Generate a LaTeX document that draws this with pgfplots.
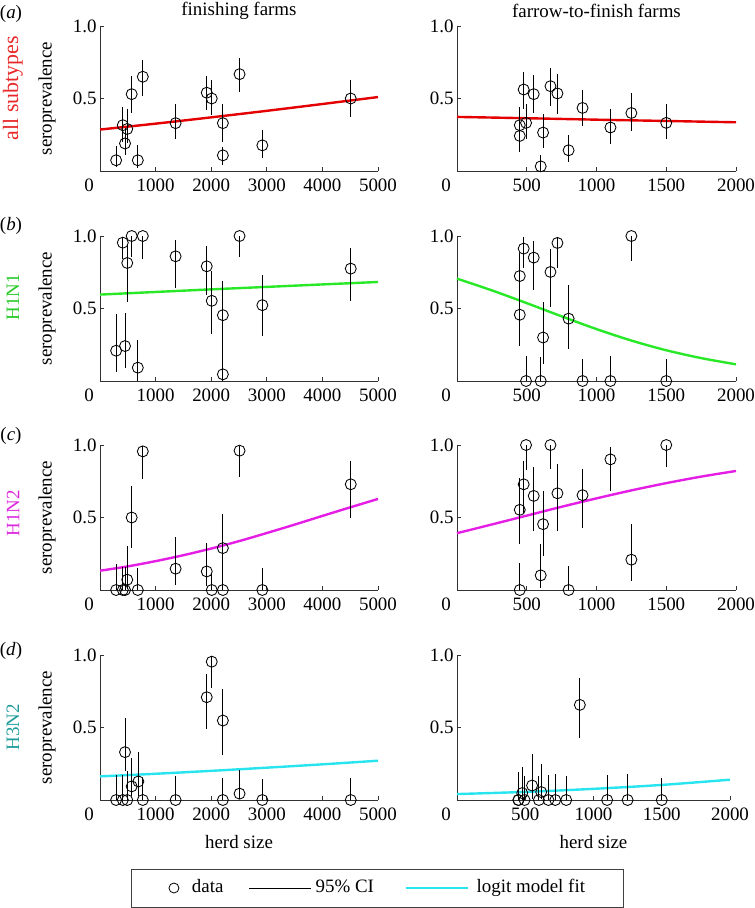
\documentclass[border=0pt]{standalone}
\usepackage{pgfplots}
\pgfplotsset{compat=1.18}
\usepackage{pgfplotstable}
\usepackage{fontspec}
\setmainfont{Liberation Serif}

\definecolor{fitred}{RGB}{228,0,0}
\definecolor{fitgreen}{RGB}{40,232,40}
\definecolor{fitmag}{RGB}{228,30,228}
\definecolor{fitcyan}{RGB}{40,228,238}
\definecolor{labred}{RGB}{232,40,40}
\definecolor{labgreen}{RGB}{40,200,40}
\definecolor{labmag}{RGB}{220,40,220}
\definecolor{labteal}{RGB}{30,155,155}
\definecolor{axgray}{RGB}{50,50,50}

% ---------- finishing farms (left column) ----------
\pgfplotstableread{
x y lo hi
290 0.074 0.03 0.17
410 0.316 0.20 0.44
450 0.19 0.11 0.30
490 0.29 0.19 0.43
570 0.53 0.40 0.654
680 0.074 0.02 0.18
770 0.65 0.518 0.765
1360 0.33 0.223 0.459
1920 0.54 0.42 0.657
2010 0.50 0.385 0.627
2210 0.33 0.20 0.465
2210 0.108 0.04 0.166
2510 0.668 0.546 0.776
2920 0.177 0.092 0.28
4510 0.50 0.373 0.627
}\datAL
\pgfplotstableread{
x y lo hi
290 0.209 0.064 0.459
410 0.954 0.84 0.99
450 0.241 0.087 0.472
490 0.814 0.546 0.947
570 1.0 0.855 1.0
680 0.092 0.0 0.28
770 1.0 0.84 1.0
1360 0.86 0.638 0.97
1920 0.791 0.59 0.929
2010 0.553 0.323 0.76
2210 0.454 0.23 0.688
2210 0.046 0.0 0.25
2510 1.0 0.855 1.0
2920 0.523 0.31 0.734
4510 0.775 0.55 0.917
}\datBL
\pgfplotstableread{
x y lo hi
290 0 0 0.18
410 0 0 0.16
450 0 0 0.16
490 0.071 0.01 0.305
570 0.50 0.289 0.718
680 0 0 0.151
770 0.956 0.764 0.99
1360 0.147 0.032 0.365
1920 0.128 0.025 0.323
2010 0 0 0.12
2210 0.289 0.025 0.523
2210 0 0 0.10
2510 0.961 0.78 0.99
2920 0 0 0.15
4510 0.729 0.50 0.892
}\datCL
\pgfplotstableread{
x y lo hi
290 0 0 0.174
410 0 0 0.17
450 0.33 0.197 0.569
490 0 0 0.20
570 0.094 0.025 0.289
690 0.128 0.025 0.33
770 0 0 0.15
1360 0 0 0.163
1920 0.709 0.489 0.869
2010 0.954 0.77 0.99
2210 0.548 0.312 0.766
2210 0 0 0.151
2510 0.044 0.007 0.209
2920 0 0 0.145
4510 0 0 0.151
}\datDL

% ---------- farrow-to-finish farms (right column) ----------
\pgfplotstableread{
x y lo hi
450 0.316 0.20 0.44
450 0.242 0.13 0.37
478 0.562 0.43 0.684
495 0.332 0.22 0.465
550 0.53 0.40 0.66
600 0.032 0.0 0.108
617 0.265 0.16 0.396
670 0.585 0.447 0.707
720 0.535 0.396 0.668
800 0.143 0.062 0.25
900 0.435 0.309 0.557
1100 0.30 0.184 0.43
1250 0.40 0.274 0.54
1500 0.332 0.221 0.459
}\datAR
\pgfplotstableread{
x y lo hi
450 0.724 0.50 0.88
450 0.457 0.24 0.67
478 0.913 0.776 0.99
495 0 0 0.172
550 0.851 0.625 0.966
600 0 0 0.166
617 0.30 0.12 0.545
670 0.752 0.51 0.913
720 0.952 0.78 0.99
800 0.43 0.223 0.66
900 0 0 0.149
1100 0 0 0.17
1250 1.0 0.828 1.0
1500 0 0 0.154
}\datBR
\pgfplotstableread{
x y lo hi
450 0.553 0.32 0.77
450 0 0 0.186
478 0.729 0.53 0.892
495 1.0 0.828 1.0
550 0.649 0.41 0.846
600 0.101 0.014 0.319
617 0.454 0.236 0.686
670 1.0 0.833 1.0
720 0.667 0.41 0.869
800 0 0 0.163
900 0.654 0.427 0.835
1100 0.901 0.686 0.989
1250 0.209 0.06 0.456
1500 1.0 0.846 1.0
}\datCR
\pgfplotstableread{
x y lo hi
450 0 0 0.186
450 0 0 0.19
478 0.048 0 0.227
495 0 0 0.167
550 0.10 0.01 0.317
600 0 0 0.163
617 0.055 0.005 0.25
670 0 0 0.17
720 0 0 0.179
800 0 0 0.163
900 0.656 0.427 0.839
1100 0 0 0.17
1250 0 0 0.179
1500 0 0 0.154
}\datDR

% ---------- logit model fits ----------
\pgfplotstableread{
x p
0 0.286
1000 0.3265
2000 0.370
3000 0.415
4000 0.462
5000 0.510
}\fitAL
\pgfplotstableread{
x p
0 0.373
500 0.364
1000 0.354
1500 0.345
2000 0.336
}\fitAR
\pgfplotstableread{
x p
0 0.596
1000 0.614
2000 0.632
3000 0.649
4000 0.666
5000 0.683
}\fitBL
\pgfplotstableread{
x p
0 0.706
250 0.625
500 0.537
750 0.446
1000 0.358
1250 0.279
1500 0.212
1750 0.158
2000 0.115
}\fitBR
\pgfplotstableread{
x p
0 0.133
500 0.163
1000 0.199
1500 0.240
2000 0.286
2500 0.337
3000 0.393
3500 0.451
4000 0.511
4500 0.570
5000 0.628
}\fitCL
\pgfplotstableread{
x p
0 0.392
250 0.452
500 0.513
750 0.574
1000 0.632
1250 0.687
1500 0.737
1750 0.782
2000 0.821
}\fitCR
\pgfplotstableread{
x p
0 0.163
1000 0.181
2000 0.201
3000 0.223
4000 0.246
5000 0.271
}\fitDL
\pgfplotstableread{
x p
0 0.041
500 0.056
1000 0.077
1500 0.104
2000 0.140
}\fitDR

\newcommand{\fs}{\rmfamily\fontsize{19}{23}\selectfont}

\pgfplotsset{
  panel/.style={
    scale only axis, clip=false, anchor=origin,
    height=145bp,
    axis x line*=bottom, axis y line*=left,
    axis line style={axgray, line width=0.8bp},
    ymin=0, ymax=1, ytick={0.5,1}, yticklabels={0.5,1.0},
    tick align=inside, major tick length=4bp,
    tick style={axgray, line width=0.8bp},
    tick label style={font=\fs, text=black},
    xticklabel style={yshift=-4bp},
    scaled x ticks=false,
    every axis x label/.style={at={(axis description cs:0.5,0)}, anchor=center, yshift=-42bp, font=\fs},
    every axis title/.style={at={(axis description cs:0.5,1)}, anchor=center, yshift=15bp, font=\fs},
  },
  leftp/.style={panel, width=278bp, xmin=0, xmax=5000,
    xtick={1000,2000,3000,4000,5000}, xticklabels={1000,2000,3000,4000,5000},
    extra x ticks={0}, extra x tick labels={0},
    extra x tick style={xticklabel style={xshift=-11bp}},
    ylabel={seroprevalence},
    every axis y label/.style={at={(axis description cs:-0.1906,0.5)}, rotate=90, anchor=center, font=\fs}},
  rightp/.style={panel, width=279bp, xmin=0, xmax=2000,
    xtick={500,1000,1500,2000}, xticklabels={500,1000,1500,2000},
    extra x ticks={0}, extra x tick labels={0},
    extra x tick style={xticklabel style={xshift=-11bp}}},
  fit/.style={line width=2.4bp, smooth},
  dat/.style={only marks, mark=o, mark size=5.5bp, black, mark options={line width=0.85bp},
    error bars/.cd, y dir=both, y explicit, error mark=none,
    error bar style={line width=0.85bp, black}},
}

\newcommand{\datplot}[2][]{\addplot[#1, dat] table[x=x, y=y,
  y error plus expr=\thisrow{hi}-\thisrow{y},
  y error minus expr=\thisrow{y}-\thisrow{lo}] {#2};}

\begin{document}
\begin{tikzpicture}[font=\fs]
\useasboundingbox (0,0) rectangle (755bp,-908bp);

% ----- row (a)
\begin{axis}[leftp, at={(100bp,-171bp)}, title={finishing farms}]
\addplot[fit, fitred] table[x=x, y=p] {\fitAL};
\datplot{\datAL}
\end{axis}
\begin{axis}[rightp, at={(457bp,-171bp)}, title={farrow-to-finish farms}]
\addplot[fit, fitred] table[x=x, y=p] {\fitAR};
\datplot{\datAR}
\end{axis}

% ----- row (b)
\begin{axis}[leftp, at={(100bp,-381bp)}]
\addplot[fit, fitgreen] table[x=x, y=p] {\fitBL};
\datplot{\datBL}
\end{axis}
\begin{axis}[rightp, at={(457bp,-381bp)}]
\addplot[fit, fitgreen] table[x=x, y=p] {\fitBR};
\datplot{\datBR}
\end{axis}

% ----- row (c)
\begin{axis}[leftp, at={(100bp,-590bp)}]
\addplot[fit, fitmag] table[x=x, y=p] {\fitCL};
\datplot{\datCL}
\end{axis}
\begin{axis}[rightp, at={(457bp,-590bp)}]
\addplot[fit, fitmag] table[x=x, y=p] {\fitCR};
\datplot{\datCR}
\end{axis}

% ----- row (d)
\begin{axis}[leftp, at={(100bp,-800bp)}, xlabel={herd size}]
\addplot[fit, fitcyan] table[x=x, y=p] {\fitDL};
\datplot{\datDL}
\end{axis}
\begin{axis}[rightp, width=273bp, at={(457bp,-800bp)}, xlabel={herd size},
  legend columns=3,
  legend style={at={(axis description cs:-0.29304,-0.6069)}, anchor=center,
    draw=black!75, line width=0.8bp, fill=white,
    inner xsep=38bp, inner ysep=10.5bp, font=\fs,
    nodes={inner sep=0pt, text height=13bp, text depth=4bp},
    /tikz/column sep=0pt}]
\addplot[fit, fitcyan, forget plot] table[x=x, y=p] {\fitDR};
\datplot[forget plot]{\datDR}
\addlegendimage{legend image code/.code={\draw[black, line width=0.8bp, mark=o, mark size=5bp, only marks] plot coordinates {(0bp,0bp)};}}
\addlegendentry{\hspace*{13bp}data\hspace*{25.3bp}}
\addlegendimage{legend image code/.code={\draw[black, line width=0.8bp] (0bp,0bp) -- (62bp,0bp);}}
\addlegendentry{\hspace*{4bp}95\% CI\hspace*{30.4bp}}
\addlegendimage{legend image code/.code={\draw[fitcyan, line width=2.4bp] (0bp,0bp) -- (62bp,0bp);}}
\addlegendentry{\hspace*{8bp}logit model fit}
\end{axis}

% ----- row labels and panel letters
\node[rotate=90, text=labred, font=\rmfamily\fontsize{22}{26}\selectfont] at (13bp,-88bp) {all subtypes};
\node[rotate=90, text=labgreen] at (13bp,-297bp) {H1N1};
\node[rotate=90, text=labmag] at (13bp,-513bp) {H1N2};
\node[rotate=90, text=labteal] at (13bp,-727bp) {H3N2};
\node at (11bp,-14bp) {(\textit{a})};
\node at (11bp,-226bp) {(\textit{b})};
\node at (11bp,-436bp) {(\textit{c})};
\node at (11bp,-651bp) {(\textit{d})};
\end{tikzpicture}
\end{document}
